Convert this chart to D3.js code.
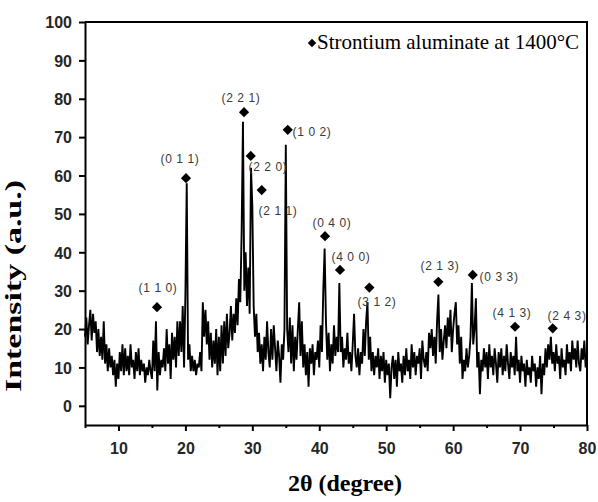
<!DOCTYPE html>
<html>
<head>
<meta charset="utf-8">
<script src="https://cdn.jsdelivr.net/npm/d3@7"></script>
<style>
  html, body { margin: 0; padding: 0; background: #fff; }
  svg { display: block; }
</style>
</head>
<body>
<svg id="chart" width="598" height="502"></svg>
<script>
// ---------------- data ----------------
const twoThetaStart = 5.0;
const twoThetaStep = 0.2;
const intensity = [
  18, 23, 16, 21, 25, 17, 24, 19, 22, 14,   // 5.0 - 6.8
  20, 13, 18, 12, 22, 11, 16, 9, 15, 10,    // 7.0
  13, 8, 12, 5, 11, 7, 14, 9, 16, 8,        // 9.0
  15, 9, 13, 8, 16, 10, 12, 7, 14, 9,       // 11.0
  15, 8, 12, 9, 11, 6, 10, 8, 12, 9,        // 13.0
  7, 17, 9, 22, 4, 14, 8, 12, 10, 15,       // 15.0
  9, 20, 11, 16, 7, 19, 12, 18, 10, 22,     // 17.0
  13, 22, 14, 26, 10, 29, 58, 12, 16, 9,    // 19.0
  13, 9, 12, 8, 11, 10, 14, 9, 27, 18,      // 21.0
  25, 16, 22, 12, 19, 10, 17, 11, 20, 8,    // 23.0
  18, 9, 21, 11, 22, 13, 24, 15, 19, 26,    // 25.0
  17, 24, 19, 28, 21, 33, 27, 45, 74, 30,   // 27.0
  40, 26, 36, 24, 62, 52, 26, 18, 24, 14,   // 29.0
  19, 11, 16, 9, 18, 12, 22, 14, 10, 20,    // 31.0
  12, 21, 15, 9, 17, 13, 6, 16, 12, 20,     // 33.0
  68, 20, 14, 23, 11, 21, 9, 18, 12, 20,    // 35.0
  27, 13, 22, 10, 16, 8, 14, 5, 15, 11,     // 37.0
  16, 8, 14, 12, 17, 10, 21, 14, 30, 41,    // 39.0
  22, 12, 19, 9, 16, 11, 21, 13, 18, 14,    // 41.0
  32, 14, 18, 10, 15, 12, 19, 11, 14, 9,    // 43.0
  16, 24, 13, 10, 15, 8, 14, 11, 20, 13,    // 45.0
  22, 27, 12, 18, 9, 14, 8, 13, 10, 15,     // 47.0
  7, 13, 9, 14, 6, 12, 8, 11, 2, 10,        // 49.0
  13, 7, 12, 5, 14, 9, 11, 6, 13, 8,        // 51.0
  15, 9, 12, 7, 16, 10, 14, 8, 13, 11,      // 53.0
  15, 7, 17, 12, 10, 14, 9, 19, 15, 20,     // 55.0
  13, 18, 11, 22, 29, 14, 20, 12, 17, 21,   // 57.0
  15, 23, 18, 25, 14, 20, 24, 27, 16, 21,   // 59.0
  11, 18, 7, 12, 9, 15, 10, 13, 18, 32,     // 61.0
  16, 20, 28, 10, 14, 3, 12, 9, 15, 10,     // 63.0
  14, 7, 16, 10, 13, 8, 15, 11, 6, 14,      // 65.0
  10, 15, 8, 13, 9, 16, 11, 7, 14, 10,      // 67.0
  13, 8, 18, 9, 12, 6, 13, 9, 11, 5,        // 69.0
  12, 8, 10, 6, 13, 9, 11, 5, 10, 7,        // 71.0
  13, 3, 11, 8, 15, 10, 16, 12, 18, 11,     // 73.0
  14, 9, 16, 11, 13, 7, 15, 10, 12, 8,      // 75.0
  16, 11, 14, 9, 17, 12, 15, 10, 17, 11,    // 77.0
  9, 15, 12, 17, 10, 12                     // 79.0 - 80.0
];

const peakLabels  = ["(1 1 0)", "(0 1 1)", "(2 2 1)", "(2 2 0)", "(2 1 1)", "(1 0 2)", "(0 4 0)", "(4 0 0)", "(3 1 2)", "(2 1 3)", "(0 3 3)", "(4 1 3)", "(2 4 3)"];
const markerTheta = [15.76, 20.09, 28.76, 29.76, 31.40, 35.29, 40.86, 43.10, 47.48, 57.79, 62.93, 69.25, 74.88];
const markerValue = [25.7, 59.3, 76.5, 65.1, 56.2, 71.9, 44.2, 35.4, 30.8, 32.3, 34.1, 20.6, 20.2];
const labelTheta  = [15.91, 19.19, 28.31, 32.34, 33.84, 38.92, 41.90, 44.74, 48.63, 58.04, 66.86, 68.80, 77.02];
const labelValue  = [30.4, 64.0, 79.9, 62.0, 50.5, 71.1, 47.4, 38.5, 26.8, 36.2, 33.3, 23.9, 23.1];

const xTicks = [10, 20, 30, 40, 50, 60, 70, 80];
const xMinorTicks = [5, 15, 25, 35, 45, 55, 65, 75];
const yTicks = [0, 10, 20, 30, 40, 50, 60, 70, 80, 90, 100];
const xDomain = [5, 80];
const yDomain = [-5, 100];

const legendText = "Strontium aluminate at 1400°C";
const xTitle = "2θ (degree)";
const yTitle = "Intensity (a.u.)";

// ---------------- layout ----------------
const svg = d3.select("#chart");
const L = 85, R = 587, T = 22, B = 425;

const x = d3.scaleLinear().domain(xDomain).range([L, R]);
const y = d3.scaleLinear().domain(yDomain).range([B, T]);

const points = intensity.map((v, i) => [twoThetaStart + i * twoThetaStep, v]);

// line
svg.append("path")
  .datum(points)
  .attr("fill", "none")
  .attr("stroke", "#000")
  .attr("stroke-width", 1.9)
  .attr("stroke-linejoin", "miter")
  .attr("d", d3.line().x(d => x(d[0])).y(d => y(d[1])));

// frame (top & right)
svg.append("path")
  .attr("d", `M${L},${T}H${R}V${B}`)
  .attr("fill", "none").attr("stroke", "#000").attr("stroke-width", 2);

// x axis
const tickFont = "'Liberation Sans', Arial, sans-serif";
const xAxis = svg.append("g").attr("transform", `translate(0,${B})`)
  .call(d3.axisBottom(x).tickValues(xTicks).tickSize(6).tickSizeOuter(0).tickPadding(8).tickFormat(d3.format("d")));
svg.append("g").attr("transform", `translate(0,${B})`)
  .call(d3.axisBottom(x).tickValues(xMinorTicks).tickSize(3).tickSizeOuter(0).tickFormat(""))
  .call(g => g.select(".domain").remove());

// y axis
const yAxis = svg.append("g").attr("transform", `translate(${L},0)`)
  .call(d3.axisLeft(y).tickValues(yTicks).tickSize(6).tickSizeOuter(0).tickPadding(7).tickFormat(d3.format("d")));

svg.selectAll(".domain").attr("stroke-width", 2).attr("stroke", "#000");
svg.selectAll(".tick line").attr("stroke-width", 2).attr("stroke", "#000");
svg.selectAll(".tick text")
  .attr("font-family", tickFont)
  .attr("font-size", 16)
  .attr("font-weight", "bold")
  .attr("fill", "#262626");
xAxis.selectAll(".tick text").attr("dy", "0.95em");
yAxis.selectAll(".tick text").attr("dy", "0.36em");

// markers
const diamond = d3.symbol().type(d3.symbolSquare).size(52);
svg.append("g").selectAll("path")
  .data(markerTheta)
  .join("path")
  .attr("d", diamond)
  .attr("transform", (d, i) => `translate(${x(d)},${y(markerValue[i])}) rotate(45)`)
  .attr("fill", "#000");

// peak labels
svg.append("g").selectAll("text")
  .data(peakLabels)
  .join("text")
  .attr("x", (d, i) => x(labelTheta[i]))
  .attr("y", (d, i) => y(labelValue[i]))
  .attr("text-anchor", "middle")
  .attr("dominant-baseline", "middle")
  .attr("font-family", tickFont)
  .attr("font-size", 12)
  .attr("letter-spacing", 0.6)
  .attr("fill", "#3a3a3a")
  .text(d => d);

// legend
svg.append("path")
  .attr("d", d3.symbol().type(d3.symbolSquare).size(36))
  .attr("transform", "translate(312,43) rotate(45)")
  .attr("fill", "#000");
svg.append("text")
  .attr("x", 317).attr("y", 49)
  .attr("font-family", "'Liberation Serif', 'Times New Roman', serif")
  .attr("font-size", 21)
  .attr("fill", "#000")
  .text(legendText);

// axis titles
svg.append("text")
  .attr("x", 345).attr("y", 491)
  .attr("text-anchor", "middle")
  .attr("font-family", "'Liberation Serif', 'Times New Roman', serif")
  .attr("font-weight", "bold")
  .attr("font-size", 24)
  .attr("fill", "#000")
  .text(xTitle);

svg.append("text")
  .attr("transform", "translate(21,286) rotate(-90)")
  .attr("text-anchor", "middle")
  .attr("font-family", "'Liberation Serif', 'Times New Roman', serif")
  .attr("font-weight", "bold")
  .attr("font-size", 23)
  .attr("fill", "#000")
  .attr("textLength", 212)
  .attr("lengthAdjust", "spacingAndGlyphs")
  .text(yTitle);
</script>
</body>
</html>
